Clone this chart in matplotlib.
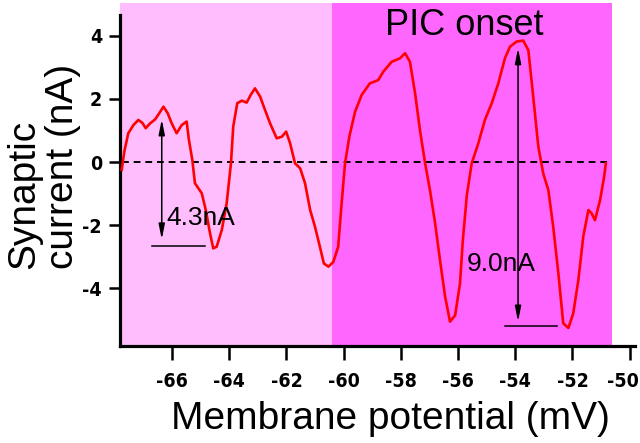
import matplotlib
matplotlib.use("Agg")
import matplotlib.pyplot as plt
import matplotlib.transforms as mtransforms
from matplotlib import font_manager

# membrane potential (mV) and synaptic current (nA)
vm = [-67.76, -67.67, -67.53, -67.35, -67.18, -67.04, -66.92, -66.77, -66.59, -66.45,
      -66.30, -66.15, -66.01, -65.84, -65.66, -65.49, -65.41, -65.29, -65.20, -64.96,
      -64.82, -64.67, -64.56, -64.44, -64.26, -64.09, -63.94, -63.86, -63.72, -63.56,
      -63.39, -63.25, -63.10, -62.92, -62.75, -62.57, -62.34, -62.16, -62.01, -61.87,
      -61.70, -61.52, -61.35, -61.17, -61.00, -60.83, -60.69, -60.53, -60.36, -60.19,
      -60.07, -59.95, -59.80, -59.60, -59.37, -59.08, -58.79, -58.61, -58.32, -58.03,
      -57.85, -57.68, -57.50, -57.33, -57.15, -56.98, -56.80, -56.63, -56.45, -56.28,
      -56.10, -55.93, -55.83, -55.69, -55.52, -55.29, -55.06, -54.82, -54.59, -54.36,
      -54.18, -53.95, -53.72, -53.54, -53.37, -53.19, -53.02, -52.84, -52.67, -52.49,
      -52.32, -52.14, -51.97, -51.79, -51.62, -51.44, -51.33, -51.21, -51.03, -50.89,
      -50.83]
current = [-0.25, 0.33, 0.91, 1.17, 1.33, 1.24, 1.07, 1.22, 1.35, 1.54,
           1.75, 1.54, 1.22, 0.91, 1.17, 1.28, 0.70, 0.06, -0.67, -0.99,
           -1.52, -2.26, -2.73, -2.68, -2.15, -1.31, -0.04, 1.12, 1.86, 1.94,
           1.88, 2.12, 2.33, 2.07, 1.65, 1.22, 0.75, 0.80, 0.96, 0.59,
           -0.04, -0.20, -0.67, -1.52, -2.05, -2.68, -3.21, -3.31, -3.16, -2.68,
           -1.31, -0.04, 0.80, 1.59, 2.12, 2.49, 2.59, 2.86, 3.17, 3.28,
           3.44, 3.17, 2.17, 1.01, -0.04, -0.89, -1.94, -3.10, -4.26, -5.05,
           -4.85, -3.84, -2.47, -1.04, -0.04, 0.59, 1.33, 1.86, 2.49, 3.28,
           3.65, 3.81, 3.84, 3.54, 2.07, 0.48, -0.36, -0.89, -2.05, -3.52,
           -5.10, -5.25, -4.79, -3.73, -2.36, -1.52, -1.62, -1.84, -1.20, -0.47,
           -0.04]

xticks = [-66, -64, -62, -60, -58, -56, -54, -52, -50]
yticks = [-4, -2, 0, 2, 4]
pre_zone = (-67.82, -60.41)
pic_zone = (-60.41, -50.63)
arrow_small = (-66.36, 1.35, -2.45)   # x, top, bottom
base_small = (-66.69, -64.85, -2.65)  # x0, x1, y
arrow_big = (-53.9, 3.6, -5.05)
base_big = (-54.35, -52.53, -5.19)

# look for any narrow face for the tick labels, else Roboto
tick_prop = None
for f in font_manager.fontManager.ttflist:
    nm = f.name + ' ' + str(f.stretch)
    if ('Narrow' in nm or 'Condensed' in nm or 'condensed' in nm) and f.weight in (700, 'bold'):
        tick_prop = font_manager.FontProperties(fname=f.fname, size=14)
        break
if tick_prop is None:
    tick_prop = font_manager.FontProperties(family='Roboto', weight='bold', size=13.5)

plt.rcParams['font.family'] = ['Liberation Sans', 'DejaVu Sans']

fig = plt.figure(figsize=(6.4, 4.43), dpi=100)
ax = fig.add_axes([120/640, 1 - 346/443, 515/640, 343/443])
ax.set_xlim(-67.82, -49.81)
ax.set_ylim(-5.82, 5.03)

ax.axvspan(*pre_zone, color='#ffbdfd', lw=0, zorder=0)
ax.axvspan(*pic_zone, color='#ff66fd', lw=0, zorder=0)

ax.plot([vm[0], -50.8], [0, 0], ls=(0, (3.5, 2.5)), c='k', lw=1.4, zorder=2)
ax.plot(vm, current, c='#ff0000', lw=1.9, zorder=3)

arr = dict(arrowstyle='<|-|>,head_length=0.9,head_width=0.18', color='k', lw=1.1,
           shrinkA=0, shrinkB=0)
ax.annotate('', xy=(arrow_small[0], arrow_small[1]), xytext=(arrow_small[0], arrow_small[2]),
            arrowprops=arr, zorder=4)
ax.plot(base_small[:2], [base_small[2]] * 2, c='k', lw=1.1)
ax.annotate('', xy=(arrow_big[0], arrow_big[1]), xytext=(arrow_big[0], arrow_big[2]),
            arrowprops=arr, zorder=4)
ax.plot(base_big[:2], [base_big[2]] * 2, c='k', lw=1.1)

ax.text(-66.21, -1.99, '4.3nA', fontsize=19, ha='left', va='baseline')
ax.text(-55.69, -3.44, '9.0nA', fontsize=19, ha='left', va='baseline')
ax.text(-55.79, 4.02, 'PIC onset', fontsize=26, ha='center', va='baseline')

for s in ['top', 'right']:
    ax.spines[s].set_visible(False)
for s in ['left', 'bottom']:
    ax.spines[s].set_linewidth(2.3)
ax.spines['left'].set_bounds(-5.82, 4.65)

ax.set_xticks(xticks)
ax.set_yticks(yticks)
ax.set_xticklabels([str(t) for t in xticks], fontproperties=tick_prop)
ax.set_yticklabels([str(t) for t in yticks], fontproperties=tick_prop)
ax.tick_params(axis='x', direction='out', length=10, width=1.8, pad=9)
ax.tick_params(axis='y', direction='out', length=8, width=1.8, pad=5)

fig.text(390/640, 1 - 419/443, 'Membrane potential (mV)', fontsize=28,
         ha='center', va='center')
fig.text(44/640, 1 - 166/443, 'Synaptic\ncurrent (nA)', fontsize=28, rotation=90,
         ha='center', va='center', multialignment='left', linespacing=1.1)

# keep the last x tick label inside the figure
fig.canvas.draw()
last = ax.get_xticklabels()[-1]
over = last.get_window_extent().x1 - (fig.bbox.width - 1)
if over > 0:
    last.set_transform(last.get_transform() +
                       mtransforms.Affine2D().translate(-over, 0))

fig.savefig('out.png', dpi=100)
